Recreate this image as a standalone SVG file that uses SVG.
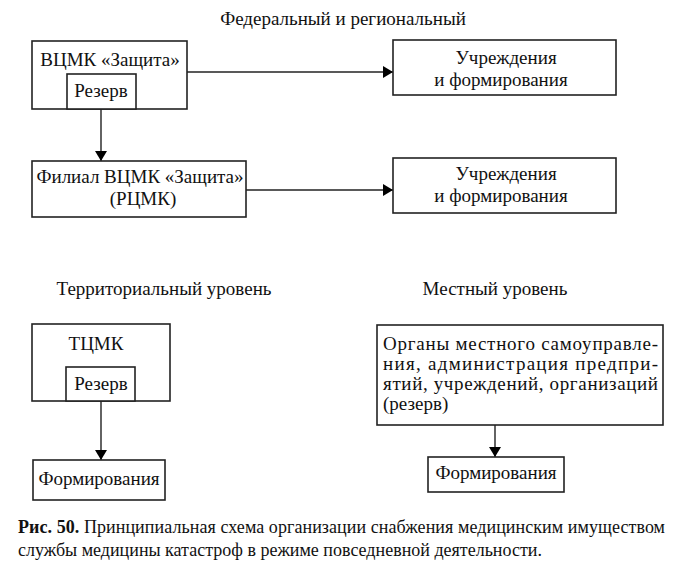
<svg xmlns="http://www.w3.org/2000/svg" width="684" height="564" viewBox="0 0 684 564" font-family="'Liberation Serif', 'Times New Roman', Times, serif">
<defs>
<marker id="ah" viewBox="0 0 10 12" refX="10" refY="6" markerWidth="10" markerHeight="12" markerUnits="userSpaceOnUse" orient="auto">
<path d="M0,0 L10,6 L0,12 z" fill="#000"/>
</marker>
<style>
.b{fill:#fff;stroke:#222;stroke-width:1.6}
.t{font-family:'Liberation Serif','Times New Roman',Times,serif;font-size:19px;fill:#111}
.c{stroke:#222;stroke-width:1.4;fill:none;marker-end:url(#ah)}
</style>
</defs>
<rect width="684" height="564" fill="#fff"/>
<text class="t" x="343" y="25" text-anchor="middle">Федеральный и региональный</text>
<text class="t" x="164" y="295" text-anchor="middle">Территориальный уровень</text>
<text class="t" x="495" y="295" text-anchor="middle">Местный уровень</text>
<g id="connectors">
<line class="c" x1="187" y1="72" x2="393" y2="72"/>
<line class="c" x1="101" y1="109" x2="101" y2="161"/>
<line class="c" x1="246" y1="190" x2="393" y2="190"/>
<line class="c" x1="101" y1="401" x2="101" y2="460"/>
<line class="c" x1="495" y1="425" x2="495" y2="457"/>
</g>
<g id="vcmk">
<rect class="b" x="32" y="41" width="155" height="68"/>
<text class="t" x="110" y="66" text-anchor="middle">ВЦМК «Защита»</text>
</g>
<g id="rezerv1">
<rect class="b" x="67" y="74" width="69" height="35"/>
<text class="t" x="101" y="97" text-anchor="middle">Резерв</text>
</g>
<g id="uchr1">
<rect class="b" x="393" y="40" width="223" height="55"/>
<text class="t" x="506" y="64" text-anchor="middle">Учреждения</text>
<text class="t" x="501" y="86" text-anchor="middle">и формирования</text>
</g>
<g id="filial">
<rect class="b" x="32" y="161" width="214" height="56"/>
<text class="t" x="140" y="183" text-anchor="middle">Филиал ВЦМК «Защита»</text>
<text class="t" x="143" y="205" text-anchor="middle">(РЦМК)</text>
</g>
<g id="uchr2">
<rect class="b" x="393" y="158" width="223" height="55"/>
<text class="t" x="506" y="180" text-anchor="middle">Учреждения</text>
<text class="t" x="501" y="202" text-anchor="middle">и формирования</text>
</g>
<g id="tcmk">
<rect class="b" x="32" y="324" width="138" height="77"/>
<text class="t" x="96" y="350" text-anchor="middle">ТЦМК</text>
</g>
<g id="rezerv2">
<rect class="b" x="66" y="367" width="69" height="34"/>
<text class="t" x="101" y="390" text-anchor="middle">Резерв</text>
</g>
<g id="form1">
<rect class="b" x="33" y="460" width="132" height="40"/>
<text class="t" x="99" y="485" text-anchor="middle">Формирования</text>
</g>
<g id="organy">
<rect class="b" x="377" y="325" width="286" height="100"/>
<text class="t" x="383" y="350" textLength="275" lengthAdjust="spacing">Органы местного самоуправле-</text>
<text class="t" x="383" y="370" textLength="275" lengthAdjust="spacing">ния, администрация предпри-</text>
<text class="t" x="383" y="390" textLength="275" lengthAdjust="spacing">ятий, учреждений, организаций</text>
<text class="t" x="383" y="410">(резерв)</text>
</g>
<g id="form2">
<rect class="b" x="428" y="457" width="136" height="35"/>
<text class="t" x="496" y="479" text-anchor="middle">Формирования</text>
</g>
<g id="caption">
<text class="t" x="18" y="533" textLength="647" lengthAdjust="spacing" style="font-size:18px"><tspan font-weight="bold">Рис. 50.</tspan> Принципиальная схема организации снабжения медицинским имуществом</text>
<text class="t" x="18" y="556" style="font-size:18px">службы медицины катастроф в режиме повседневной деятельности.</text>
</g>
</svg>
